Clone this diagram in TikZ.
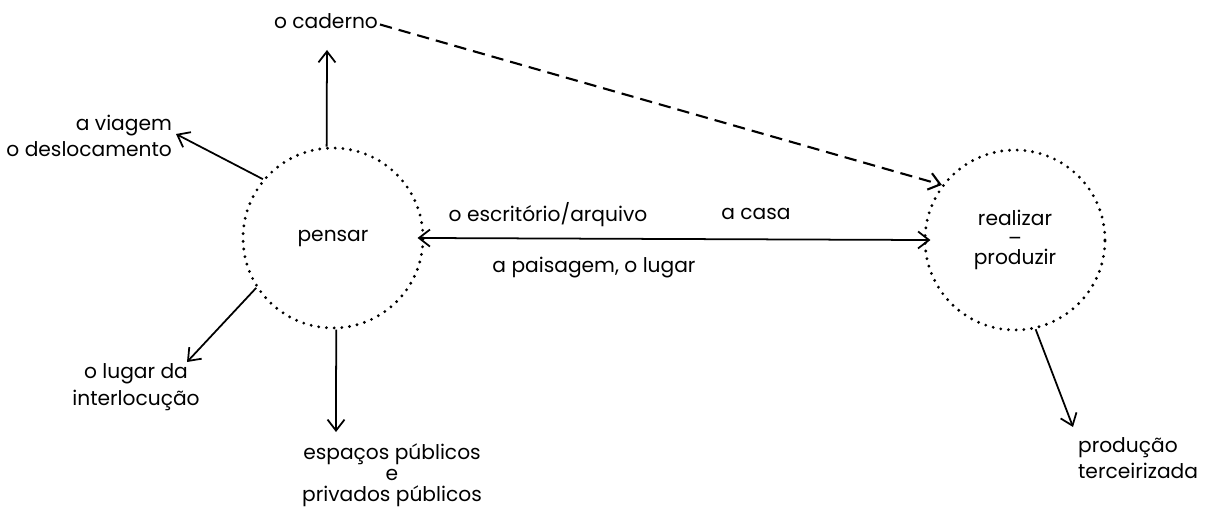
\documentclass[tikz,border=0pt]{standalone}
\usepackage{fontspec}
\setmainfont{Poppins}
\usetikzlibrary{arrows.meta,positioning}

\begin{document}
\begin{tikzpicture}[
    x=0.02cm, y=-0.02cm,
    >={Straight Barb[length=2.2mm,width=3.4mm]},
    idea/.style={circle, draw, line width=1.8pt, dash pattern=on 0pt off 4.4pt,
                 line cap=round, minimum size=3.6cm, inner sep=0pt, align=center},
    lbl/.style={font=\fontsize{11.5}{15}\selectfont, inner sep=1pt},
    link/.style={->, line width=1pt}
]
    \useasboundingbox (0,0) rectangle (1227,517);

    % the two circles
    \node[idea, lbl] (pensar) at (333,238) {pensar};
    \node[idea, lbl] (realizar) at (1015,240) {realizar\\[-4pt]--\\[-4pt]produzir};

    % labels round pensar
    \node[lbl] (caderno) at (326,21) {o caderno};
    \node[lbl, align=right, anchor=east] (viagem) at (174,136) {a viagem\\o deslocamento};
    \node[lbl, align=center] (interloc) at (136,387) {o lugar da\\interlocução};
    \node[lbl, align=center, font=\fontsize{11.5}{12}\selectfont] (espacos) at (392,475)
        {espaços públicos\\e\\privados públicos};
    \node[lbl, align=left, anchor=west] (producao) at (1076,458) {produção\\terceirizada};

    % labels on the link between the circles
    \node[lbl] (escritorio) at (548,215) {o escritório/arquivo};
    \node[lbl] (casa) at (756,214) {a casa};
    \node[lbl] (paisagem) at (594,268) {a paisagem, o lugar};

    % free ends of the arrows
    \coordinate (cadernoTip) at (327,50);
    \coordinate (viagemTip) at (176,134);
    \coordinate (lugarTip) at (187,362);
    \coordinate (espacosTip) at (336,432);
    \coordinate (producaoTip) at (1073,427);

    \draw[link] (pensar.94) -- (cadernoTip);
    \draw[link] (pensar.140) -- (viagemTip);
    \draw[link] (pensar.213) -- (lugarTip);
    \draw[link] (pensar.272) -- (espacosTip);
    \draw[link] (realizar.283) -- (producaoTip);

    \draw[link, line width=1.2pt, dash pattern=on 7pt off 4pt]
        ([yshift=-2pt]caderno.east) -- (realizar.143);
    \draw[<->, line width=1pt, shorten <=-4pt, shorten >=-4pt] (pensar.east) -- (realizar.west);
\end{tikzpicture}
\end{document}
